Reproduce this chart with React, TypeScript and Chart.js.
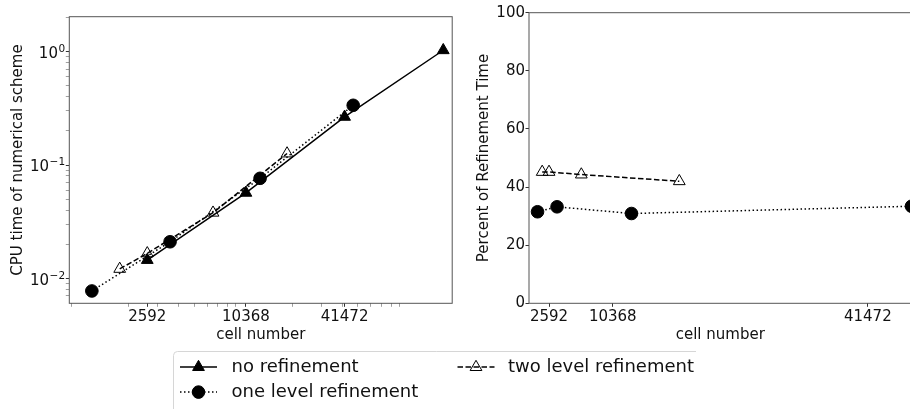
import React, { useEffect, useRef } from 'react';
import { Chart, registerables } from 'chart.js';
import { drawPoint } from 'chart.js/helpers';

Chart.register(...registerables);

// ---------------- data ----------------
const noRefCells = [2592, 10368, 41472, 165888];
const noRefCpu = [0.0145, 0.0568, 0.266, 1.03];

const oneLevelCells = [1190, 3570, 12650, 46800];
const oneLevelCpu = [0.00773, 0.021, 0.0763, 0.3365];
const oneLevelPct = [31.5, 33.2, 30.9, 33.4];

const twoLevelCells = [1760, 2592, 6530, 18480];
const twoLevelCpu = [0.0121, 0.0166, 0.0379, 0.1263];
const twoLevelPct = [45.2, 45.2, 44.3, 42.0];

const cellTicks = [2592, 10368, 41472];
const cpuTickValues = [0.01, 0.1, 1];
const cpuTickBase = '10';
const cpuTickExponents = ['\u22122', '\u22121', '0'];
const pctTicks = [0, 20, 40, 60, 80, 100];

const seriesNames = ['no refinement', 'one level refinement', 'two level refinement'];

// ---------------- styles ----------------
const FONT = 'DejaVu Sans';
const INK = '#111';
const SPINE = '#555';
const LW = 1.5;
const DOTTED = [1.5, 2.5];
const DASHED = [5.5, 2.5];
const TRI_R = 6.8;
const CIRC_R = 6.3;

const styleNo = { dash: [] as number[], pointStyle: 'triangle', radius: TRI_R, fill: '#000' };
const styleOne = { dash: DOTTED, pointStyle: 'circle', radius: CIRC_R, fill: '#000' };
const styleTwo = { dash: DASHED, pointStyle: 'triangle', radius: TRI_R, fill: 'rgba(0,0,0,0)' };

function ds(label: string, xs: number[], ys: number[], st: any) {
  return {
    label,
    data: xs.map((x, i) => ({ x, y: ys[i] })),
    showLine: true,
    borderColor: '#000',
    borderWidth: LW,
    borderDash: st.dash,
    backgroundColor: st.fill,
    pointStyle: st.pointStyle,
    pointRadius: st.radius,
    pointHoverRadius: st.radius,
    pointBackgroundColor: st.fill,
    pointBorderColor: '#000',
    pointBorderWidth: 1,
    tension: 0,
  };
}

function logMinors(min: number, max: number) {
  const out: number[] = [];
  for (let e = Math.floor(Math.log10(min)); e <= Math.ceil(Math.log10(max)); e++) {
    for (let s = 2; s <= 9; s++) {
      const v = s * Math.pow(10, e);
      if (v >= min && v <= max) out.push(v);
    }
  }
  return out;
}

const framePlugin = {
  id: 'frame',
  afterDraw(chart: any) {
    const { ctx, chartArea: a } = chart;
    ctx.save();
    ctx.strokeStyle = SPINE;
    ctx.lineWidth = 1;
    ctx.strokeRect(a.left, a.top, a.right - a.left, a.bottom - a.top);
    ctx.restore();
  },
};

// power-of-ten labels with a raised exponent, placed through the y scale
const powerLabelsPlugin = {
  id: 'powerLabels',
  afterDraw(chart: any) {
    const { ctx, chartArea: a } = chart;
    const ys = chart.scales.y;
    ctx.save();
    ctx.fillStyle = INK;
    ctx.textBaseline = 'alphabetic';
    ctx.textAlign = 'left';
    cpuTickValues.forEach((v, i) => {
      const y = ys.getPixelForValue(v);
      const exp = cpuTickExponents[i];
      ctx.font = `10.5px "${FONT}"`;
      const ew = ctx.measureText(exp).width;
      ctx.font = `15px "${FONT}"`;
      const bw = ctx.measureText(cpuTickBase).width;
      const right = a.left - 4.2;
      const baseX = right - ew - bw - 0.5;
      const baseline = y + 6.3;
      ctx.font = `15px "${FONT}"`;
      ctx.fillText(cpuTickBase, baseX, baseline);
      ctx.font = `10.5px "${FONT}"`;
      ctx.fillText(exp, baseX + bw + 0.5, baseline - 6);
    });
    ctx.restore();
  },
};

const tickFont = { family: FONT, size: 15 };
const titleFont = { family: FONT, size: 15 };

// Left chart geometry
const L_X_MIN = 866.7;
const L_X_MAX = 188100;
const L_Y_MIN = 0.006016;
const L_Y_MAX = 2.037;
// Right chart geometry
const R_X_MIN = 150;
const R_X_MAX = 46800;

export default function App() {
  const c1 = useRef<HTMLCanvasElement>(null);
  const c2 = useRef<HTMLCanvasElement>(null);
  const c3 = useRef<HTMLCanvasElement>(null);

  useEffect(() => {
    document.body.style.margin = '0';
    const xMinors = logMinors(L_X_MIN, L_X_MAX);
    const yMinors = logMinors(L_Y_MIN, L_Y_MAX);

    const chart1 = new Chart(c1.current!, {
      type: 'scatter',
      data: {
        datasets: [
          ds(seriesNames[0], noRefCells, noRefCpu, styleNo),
          ds(seriesNames[1], oneLevelCells, oneLevelCpu, styleOne),
          ds(seriesNames[2], twoLevelCells, twoLevelCpu, styleTwo),
        ] as any,
      },
      options: {
        responsive: false,
        animation: false,
        events: [],
        layout: { padding: { left: 0, right: 7.7, top: 16.7, bottom: 0 } },
        plugins: { legend: { display: false }, tooltip: { enabled: false } },
        scales: {
          x: {
            type: 'logarithmic',
            min: L_X_MIN,
            max: L_X_MAX,
            afterFit: (s: any) => { s.height = 41.7; },
            afterBuildTicks: (s: any) => {
              s.ticks = [...cellTicks, ...xMinors].sort((a, b) => a - b).map((v) => ({ value: v }));
            },
            ticks: {
              autoSkip: false, maxRotation: 0, padding: 1.5, font: tickFont, color: INK,
              callback: (v: any) => (cellTicks.includes(v) ? String(v) : ''),
            },
            grid: {
              display: true, drawOnChartArea: false, drawTicks: true, tickLength: 3.5,
              tickColor: (c: any) => (cellTicks.includes(c.tick?.value) ? '#333' : '#888'),
              tickWidth: (c: any) => (cellTicks.includes(c.tick?.value) ? 1 : 0.8),
            },
            border: { display: false },
            title: { display: true, text: 'cell number', font: titleFont, color: INK, padding: { top: 0, bottom: 1.2 } },
          },
          y: {
            type: 'logarithmic',
            min: L_Y_MIN,
            max: L_Y_MAX,
            afterFit: (s: any) => { s.width = 69.3; },
            afterBuildTicks: (s: any) => {
              s.ticks = [...cpuTickValues, ...yMinors].sort((a, b) => a - b).map((v) => ({ value: v }));
            },
            ticks: {
              autoSkip: false, padding: 0.5, font: tickFont, color: INK,
              callback: () => '',
            },
            grid: {
              display: true, drawOnChartArea: false, drawTicks: true, tickLength: 3.5,
              tickColor: (c: any) => (cpuTickValues.includes(c.tick?.value) ? '#333' : '#888'),
              tickWidth: (c: any) => (cpuTickValues.includes(c.tick?.value) ? 1 : 0.8),
            },
            border: { display: false },
            title: { display: true, text: 'CPU time of numerical scheme', font: titleFont, color: INK, padding: { top: 9.3, bottom: 0 } },
          },
        },
      } as any,
      plugins: [framePlugin, powerLabelsPlugin],
    });

    const chart2 = new Chart(c2.current!, {
      type: 'scatter',
      data: {
        datasets: [
          ds(seriesNames[1], oneLevelCells, oneLevelPct, styleOne),
          ds(seriesNames[2], twoLevelCells, twoLevelPct, styleTwo),
        ] as any,
      },
      options: {
        responsive: false,
        animation: false,
        events: [],
        layout: { padding: { left: 0, right: 8.5, top: 12.7, bottom: 0 } },
        plugins: { legend: { display: false }, tooltip: { enabled: false } },
        scales: {
          x: {
            type: 'linear',
            min: R_X_MIN,
            max: R_X_MAX,
            afterFit: (s: any) => { s.height = 41.7; },
            afterBuildTicks: (s: any) => { s.ticks = cellTicks.map((v) => ({ value: v })); },
            ticks: {
              autoSkip: false, maxRotation: 0, padding: 1.5, font: tickFont, color: INK,
              callback: (v: any) => String(v),
            },
            grid: { display: true, drawOnChartArea: false, drawTicks: true, tickLength: 3.5, tickColor: '#333' },
            border: { display: false },
            title: { display: true, text: 'cell number', font: titleFont, color: INK, padding: { top: 0, bottom: 1.2 } },
          },
          y: {
            type: 'linear',
            min: 0,
            max: 100,
            afterFit: (s: any) => { s.width = 69; },
            afterBuildTicks: (s: any) => { s.ticks = pctTicks.map((v) => ({ value: v })); },
            ticks: { autoSkip: false, padding: 0.5, font: tickFont, color: INK, callback: (v: any) => String(v) },
            grid: { display: true, drawOnChartArea: false, drawTicks: true, tickLength: 3.5, tickColor: '#333' },
            border: { display: false },
            title: { display: true, text: 'Percent of Refinement Time', font: titleFont, color: INK, padding: { top: 15, bottom: 0 } },
          },
        },
      } as any,
      plugins: [framePlugin],
    });

    // legend
    const ctx = c3.current!.getContext('2d')!;
    ctx.clearRect(0, 0, 910, 409);
    ctx.save();
    ctx.strokeStyle = '#d6d6d6';
    ctx.lineWidth = 1;
    ctx.beginPath();
    ctx.moveTo(173.5, 420);
    ctx.lineTo(173.5, 355.5);
    ctx.arcTo(173.5, 351.5, 177.5, 351.5, 4);
    ctx.lineTo(696, 351.5);
    ctx.stroke();
    ctx.restore();

    const items = [
      { label: seriesNames[0], st: styleNo, hx: 180, tx: 231.5, y: 367.1 },
      { label: seriesNames[1], st: styleOne, hx: 180, tx: 231.5, y: 392.1 },
      { label: seriesNames[2], st: styleTwo, hx: 457.5, tx: 508, y: 367.1 },
    ];
    items.forEach((it) => {
      ctx.save();
      ctx.strokeStyle = '#000';
      ctx.lineWidth = LW;
      ctx.setLineDash(it.st.dash);
      ctx.beginPath();
      ctx.moveTo(it.hx, it.y);
      ctx.lineTo(it.hx + 37, it.y);
      ctx.stroke();
      ctx.setLineDash([]);
      ctx.fillStyle = it.st.fill;
      ctx.strokeStyle = '#000';
      ctx.lineWidth = 1;
      drawPoint(ctx, { pointStyle: it.st.pointStyle as any, rotation: 0, radius: it.st.radius, borderWidth: 1 } as any, it.hx + 18.5, it.y);
      ctx.fillStyle = INK;
      ctx.font = `18px "${FONT}"`;
      ctx.textBaseline = 'middle';
      ctx.textAlign = 'left';
      ctx.fillText(it.label, it.tx, it.y);
      ctx.restore();
    });

    return () => {
      chart1.destroy();
      chart2.destroy();
    };
  }, []);

  return (
    <div style={{ position: 'absolute', left: 0, top: 0, width: 910, height: 409, overflow: 'hidden', background: '#fff' }}>
      <canvas ref={c1} width={460} height={345} style={{ position: 'absolute', left: 0, top: 0, width: 460, height: 345 }} />
      <canvas ref={c2} width={460} height={345} style={{ position: 'absolute', left: 460, top: 0, width: 460, height: 345 }} />
      <canvas ref={c3} width={910} height={409} style={{ position: 'absolute', left: 0, top: 0, width: 910, height: 409, pointerEvents: 'none' }} />
    </div>
  );
}
